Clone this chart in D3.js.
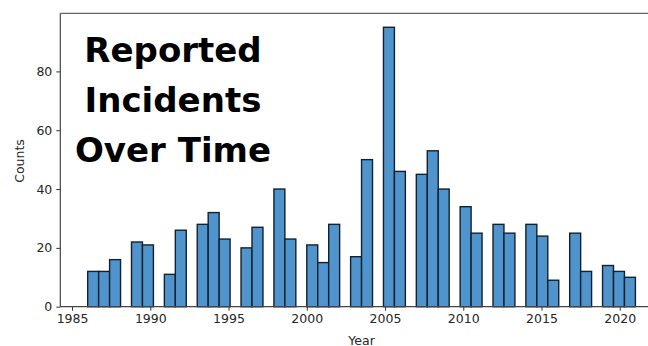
<!DOCTYPE html>
<html>
<head>
<meta charset="utf-8">
<script src="https://cdn.jsdelivr.net/npm/d3@7"></script>
<style>
  html, body { margin: 0; padding: 0; background: #fff; }
  svg { display: block; }
</style>
</head>
<body>
<div id="chart"></div>
<script>
// Incident counts per year (histogram, 50 equal bins from 1986 to 2021)
const years  = [1986, 1987, 1988, 1989, 1990, 1991, 1992, 1993, 1994, 1995,
                1996, 1997, 1998, 1999, 2000, 2001, 2002, 2003, 2004, 2005,
                2006, 2007, 2008, 2009, 2010, 2011, 2012, 2013, 2014, 2015,
                2016, 2017, 2018, 2019, 2020, 2021];
const counts = [12, 12, 16, 22, 21, 11, 26, 28, 32, 23,
                20, 27, 40, 23, 21, 15, 28, 17, 50, 95,
                46, 45, 53, 40, 34, 25, 28, 25, 28, 24,
                9, 25, 12, 14, 12, 10];
const xTicks = [1985, 1990, 1995, 2000, 2005, 2010, 2015, 2020];
const yTicks = [0, 20, 40, 60, 80];
const titleLines = ["Reported", "Incidents", "Over Time"];
const binCount = 50;

const W = 648, H = 346;
const svg = d3.select("#chart").append("svg")
  .attr("width", W).attr("height", H);

// Plot area (right edge runs past the canvas)
const plotL = 60.3, plotR = 662.8, plotT = 13.3, plotB = 306.7;

const lo = d3.min(years), hi = d3.max(years);
const pad = (hi - lo) * 0.05;
const x = d3.scaleLinear().domain([lo - pad, hi + pad]).range([plotL, plotR]);
const yMax = d3.max(counts) * 1.05;
const y = d3.scaleLinear().domain([0, yMax]).range([plotB, plotT]);

// Bin edges and per-bin totals
const step = (hi - lo) / binCount;
const edges = d3.range(binCount + 1).map(i => lo + i * step);
const totals = new Array(binCount).fill(0);
years.forEach((yr, i) => {
  let k = d3.bisectRight(edges, yr + 1e-9) - 1;
  if (k >= binCount) k = binCount - 1;
  totals[k] += counts[i];
});
const bins = totals.map((v, k) => ({ x0: edges[k], x1: edges[k + 1], v }))
  .filter(b => b.v > 0);

// Bars
svg.append("g").selectAll("rect").data(bins).join("rect")
  .attr("x", d => x(d.x0))
  .attr("width", d => x(d.x1) - x(d.x0))
  .attr("y", d => y(d.v))
  .attr("height", d => y(0) - y(d.v))
  .attr("fill", "#4f94cd")
  .attr("stroke", "#15202b")
  .attr("stroke-width", 1.4);

// Axes
const axisFont = "DejaVu Sans, sans-serif";
const xAxis = svg.append("g")
  .attr("transform", `translate(0,${plotB})`)
  .call(d3.axisBottom(x).tickValues(xTicks).tickFormat(d3.format("d"))
    .tickSize(4).tickPadding(3).tickSizeOuter(0));
const yAxis = svg.append("g")
  .attr("transform", `translate(${plotL},0)`)
  .call(d3.axisLeft(y).tickValues(yTicks).tickSize(4).tickPadding(4).tickSizeOuter(0));

[xAxis, yAxis].forEach(g => {
  g.select(".domain").remove();
  g.selectAll("line").attr("stroke", "#333").attr("stroke-width", 1);
  g.selectAll("text").attr("fill", "#262626")
    .style("font-family", axisFont).style("font-size", "12.5px");
});

// Frame
const frame = svg.append("g").attr("fill", "none").attr("stroke", "#444").attr("stroke-width", 1.2);
frame.append("line").attr("x1", plotL).attr("x2", plotL).attr("y1", plotT).attr("y2", plotB);
frame.append("line").attr("x1", plotL).attr("x2", plotR).attr("y1", plotB).attr("y2", plotB);
frame.append("line").attr("x1", plotL).attr("x2", plotR).attr("y1", plotT).attr("y2", plotT).attr("stroke", "#666");
frame.append("line").attr("x1", plotR).attr("x2", plotR).attr("y1", plotT).attr("y2", plotB);

// Axis labels
svg.append("text")
  .attr("x", (plotL + plotR) / 2).attr("y", 344.5)
  .attr("text-anchor", "middle")
  .style("font-family", axisFont).style("font-size", "12.5px")
  .attr("fill", "#262626").text("Year");
svg.append("text")
  .attr("transform", `translate(24,${(plotT + plotB) / 2 + 1}) rotate(-90)`)
  .attr("text-anchor", "middle")
  .style("font-family", axisFont).style("font-size", "12.5px")
  .attr("fill", "#262626").text("Counts");

// Title
svg.append("g").selectAll("text").data(titleLines).join("text")
  .attr("x", 173)
  .attr("y", (d, i) => 62 + i * 50)
  .attr("text-anchor", "middle")
  .style("font-family", "DejaVu Sans, sans-serif")
  .style("font-weight", "bold")
  .style("font-size", "34px")
  .attr("fill", "#000")
  .text(d => d);
</script>
</body>
</html>
